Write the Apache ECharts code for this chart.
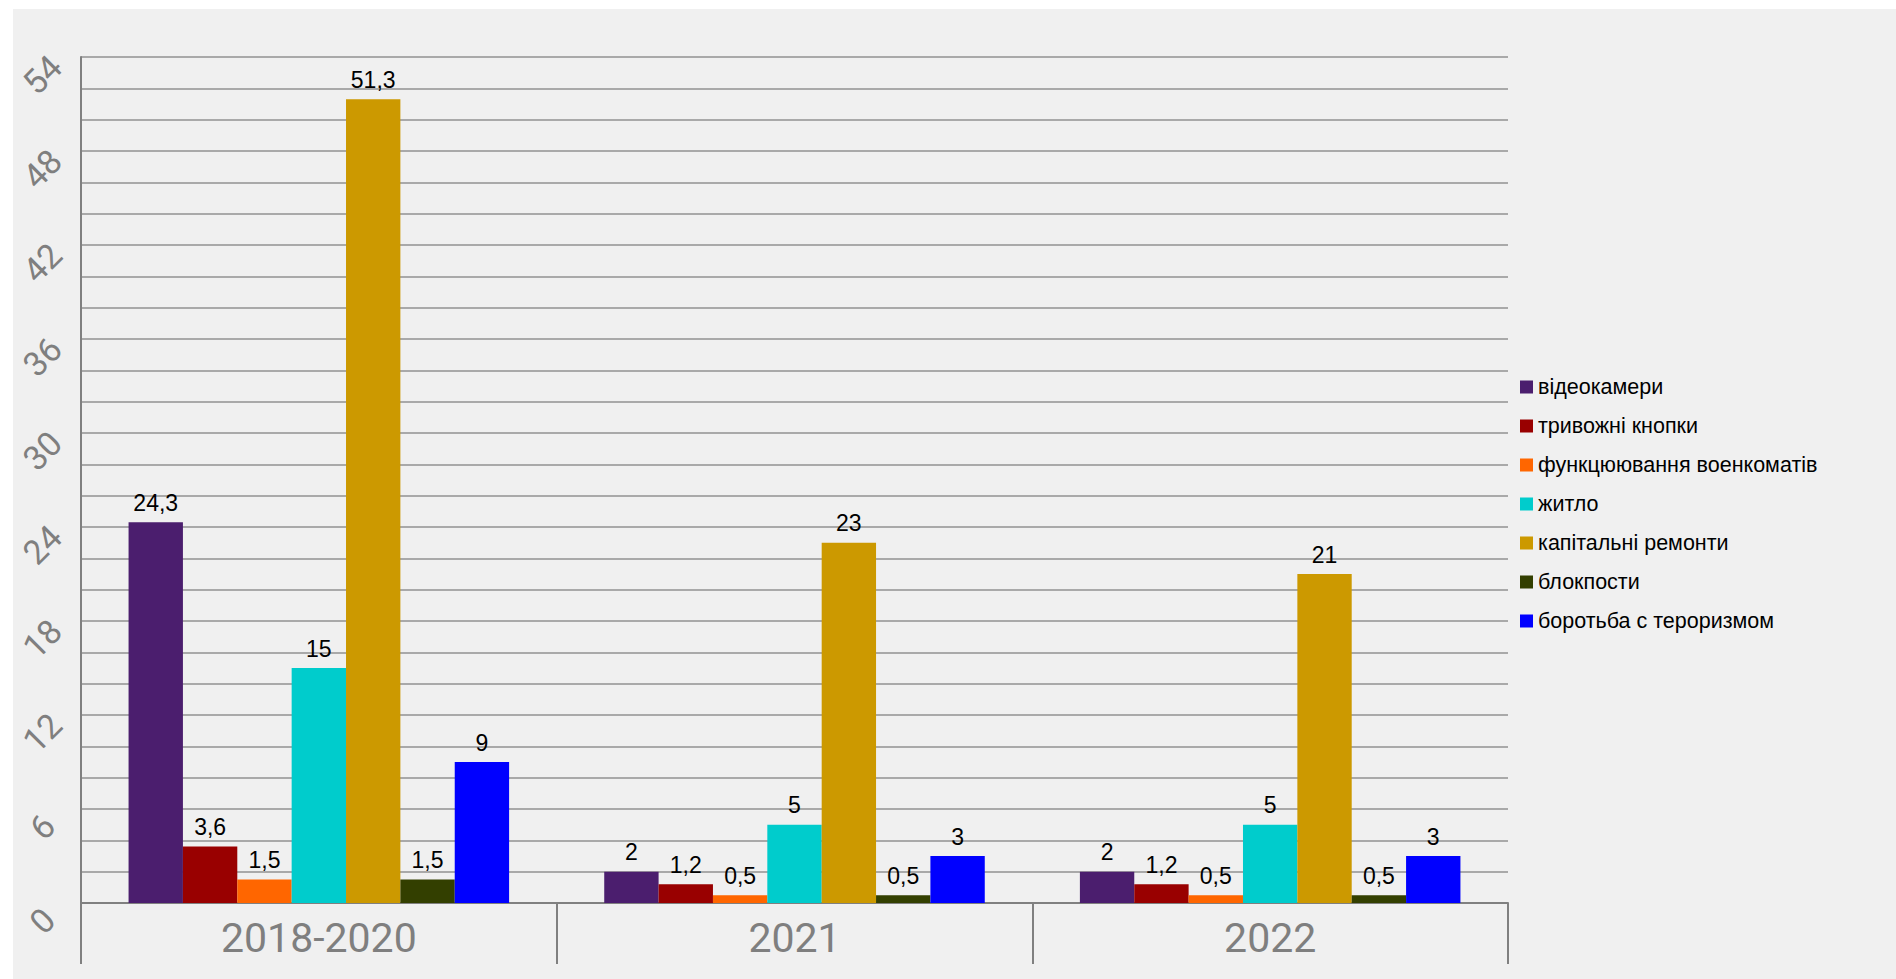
<!DOCTYPE html>
<html>
<head>
<meta charset="utf-8">
<script src="https://cdn.jsdelivr.net/npm/echarts@6/dist/echarts.min.js"></script>
<style>
  html, body { margin: 0; padding: 0; background: #ffffff; }
  #chart { position: absolute; left: 13px; top: 9px; width: 1883px; height: 970px; background: #f0f0f0; }
</style>
</head>
<body>
<div id="chart"></div>
<script>
(function () {
  var periods = ['2018-2020', '2021', '2022'];
  var seriesNames = [
    'відеокамери',
    'тривожні кнопки',
    'функцюювання военкоматів',
    'житло',
    'капітальні ремонти',
    'блокпости',
    'боротьба с тероризмом'
  ];
  var colors = ['#4b1e6e', '#990000', '#ff6600', '#00cccc', '#cc9900', '#333f00', '#0000ff'];

  var videoCams = [24.3, 2, 2];
  var alarmButtons = [3.6, 1.2, 1.2];
  var enlistment = [1.5, 0.5, 0.5];
  var housing = [15, 5, 5];
  var repairs = [51.3, 23, 21];
  var checkpoints = [1.5, 0.5, 0.5];
  var antiTerror = [9, 3, 3];

  var values = [videoCams, alarmButtons, enlistment, housing, repairs, checkpoints, antiTerror];

  var axisGray = '#808080';
  var gridGray = '#a9a9a9';

  var chart = echarts.init(document.getElementById('chart'), null, { renderer: 'svg' });
  chart.setOption({
    animation: false,
    color: colors,
    grid: { left: 68, right: 388, top: 48, bottom: 76 },
    legend: {
      orient: 'vertical',
      left: 1502,
      top: 362,
      itemWidth: 13,
      itemHeight: 13,
      itemGap: 17,
      icon: 'rect',
      textStyle: { color: '#000', fontSize: 21.5, fontFamily: 'Liberation Sans, Arial, sans-serif' },
      data: seriesNames
    },
    xAxis: {
      type: 'category',
      data: periods,
      axisLine: { lineStyle: { color: axisGray, width: 2 } },
      axisTick: { show: true, length: 61, interval: 0, lineStyle: { color: axisGray, width: 2 } },
      axisLabel: { color: '#7f7f7f', fontSize: 41, fontFamily: 'Roboto, sans-serif', margin: 14 }
    },
    yAxis: {
      type: 'value',
      min: 0,
      max: 54,
      interval: 2,
      axisLine: { show: true, lineStyle: { color: axisGray, width: 2 } },
      axisTick: { show: false },
      splitLine: { lineStyle: { color: gridGray, width: 2 } },
      axisLabel: {
        color: '#7f7f7f',
        fontSize: 34,
        fontFamily: 'Roboto, sans-serif',
        rotate: 45,
        align: 'center',
        verticalAlign: 'middle',
        padding: [0, 50, 0, 0],
        margin: 21,
        formatter: function (v) { return v % 6 === 0 ? String(v) : ''; }
      }
    },
    series: seriesNames.map(function (name, i) {
      return {
        name: name,
        type: 'bar',
        data: values[i],
        barGap: '0%',
        barCategoryGap: '20%',
        label: {
          show: true,
          position: 'top',
          distance: 8,
          color: '#000',
          fontSize: 23,
          fontFamily: 'Liberation Sans, Arial, sans-serif',
          formatter: function (p) { return String(p.value).replace('.', ','); }
        }
      };
    })
  });
})();
</script>
</body>
</html>
